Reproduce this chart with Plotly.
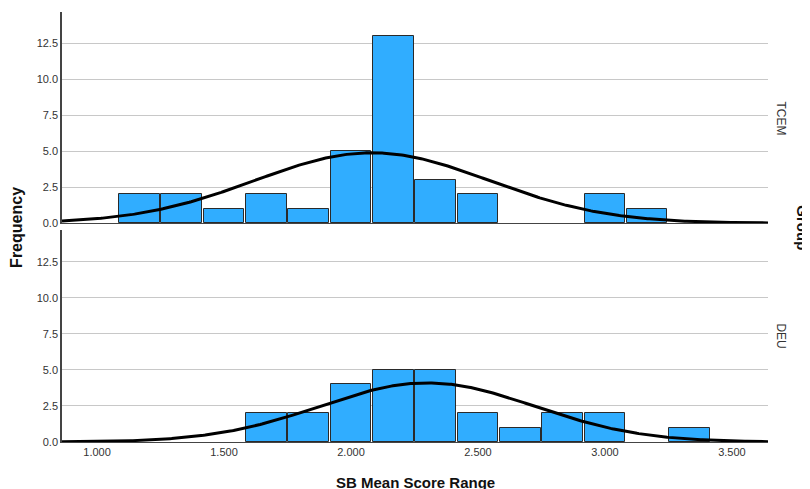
import numpy as np
import plotly.graph_objects as go

# ---- data ----
bin_lower_edges = [1.0833, 1.2500, 1.4167, 1.5833, 1.7500, 1.9167, 2.0833,
                   2.2500, 2.4167, 2.5833, 2.7500, 2.9167, 3.0833, 3.2500]
bin_width = 0.16667
tcem_counts = [2, 2, 1, 2, 1, 5, 13, 3, 2, 0, 0, 2, 1, 0]
deu_counts = [0, 0, 0, 2, 2, 4, 5, 5, 2, 1, 2, 2, 0, 1]
tcem_mean, tcem_sd, tcem_n = 2.083, 0.4615, 34
deu_mean, deu_sd, deu_n = 2.300, 0.4216, 26
x_ticks = [1.0, 1.5, 2.0, 2.5, 3.0, 3.5]
y_ticks = [0.0, 2.5, 5.0, 7.5, 10.0, 12.5]
groups = ["TCEM", "DEU"]

x_range = [0.862, 3.642]
y_range = [0, 14.7]

BAR = "#30adff"
FONT = "Liberation Sans, Arial, sans-serif"

centers = [e + bin_width / 2 for e in bin_lower_edges]
xs = np.linspace(x_range[0], x_range[1], 400)


def normal_curve(mean, sd, n):
    return n * bin_width * np.exp(-0.5 * ((xs - mean) / sd) ** 2) / (sd * np.sqrt(2 * np.pi))


fig = go.Figure()
panels = [("x", "y", tcem_counts, tcem_mean, tcem_sd, tcem_n),
          ("x2", "y2", deu_counts, deu_mean, deu_sd, deu_n)]
for xa, ya, counts, m, s, n in panels:
    shown = [c if c > 0 else None for c in counts]
    fig.add_trace(go.Bar(x=centers, y=shown, width=bin_width * 0.955,
                         marker=dict(color=BAR, line=dict(color="#2a2a2a", width=1)),
                         xaxis=xa, yaxis=ya, showlegend=False, hoverinfo="skip"))
    fig.add_trace(go.Scatter(x=xs, y=normal_curve(m, s, n), mode="lines",
                             line=dict(color="black", width=3),
                             xaxis=xa, yaxis=ya, showlegend=False, hoverinfo="skip"))

common_x = dict(range=x_range, showgrid=False, zeroline=False, showline=True,
                linecolor="#444", linewidth=1, ticks="", tickvals=x_ticks,
                tickformat=".3f", tickfont=dict(size=11, color="#333", family=FONT))
common_y = dict(range=y_range, showgrid=True, gridcolor="#c8c8c8", gridwidth=1,
                zeroline=False, showline=True, linecolor="#444", linewidth=1.5,
                ticks="", tickvals=y_ticks, tickformat=".1f",
                tickfont=dict(size=11, color="#333", family=FONT))

# page body has an 8px default margin; margins compensate for it
fig.update_layout(
    width=810, height=489,
    margin=dict(l=54, r=50, t=4, b=55),
    paper_bgcolor="white", plot_bgcolor="white",
    bargap=0,
    xaxis=dict(common_x, domain=[0, 1], anchor="y", showticklabels=False),
    yaxis=dict(common_y, domain=[0.509, 1], anchor="x"),
    xaxis2=dict(common_x, domain=[0, 1], anchor="y2", matches="x"),
    yaxis2=dict(common_y, domain=[0, 0.493], anchor="x2"),
    font=dict(family=FONT),
)

ann = []
ann.append(dict(text=groups[0], x=1.031, y=0.797, xref="paper", yref="paper",
                showarrow=False, textangle=90, font=dict(size=12, color="#333", family=FONT)))
ann.append(dict(text=groups[1], x=1.031, y=0.212, xref="paper", yref="paper",
                showarrow=False, textangle=90, font=dict(size=12, color="#333", family=FONT)))
ann.append(dict(text="<b>Group</b>", x=1.0625, y=0.4977, xref="paper", yref="paper",
                showarrow=False, textangle=90,
                font=dict(size=15, color="#111", family=FONT)))
ann.append(dict(text="<b>Frequency</b>", x=-0.0795, y=0.4988, xref="paper", yref="paper",
                showarrow=False, textangle=-90,
                font=dict(size=16, color="#111", family=FONT)))
ann.append(dict(text="<b>SB Mean Score Range</b>", x=0.5, y=-0.0698, xref="paper", yref="paper",
                yanchor="top", showarrow=False,
                font=dict(size=15, color="#111", family=FONT)))
fig.update_layout(annotations=ann)

fig.write_html("out.html")
